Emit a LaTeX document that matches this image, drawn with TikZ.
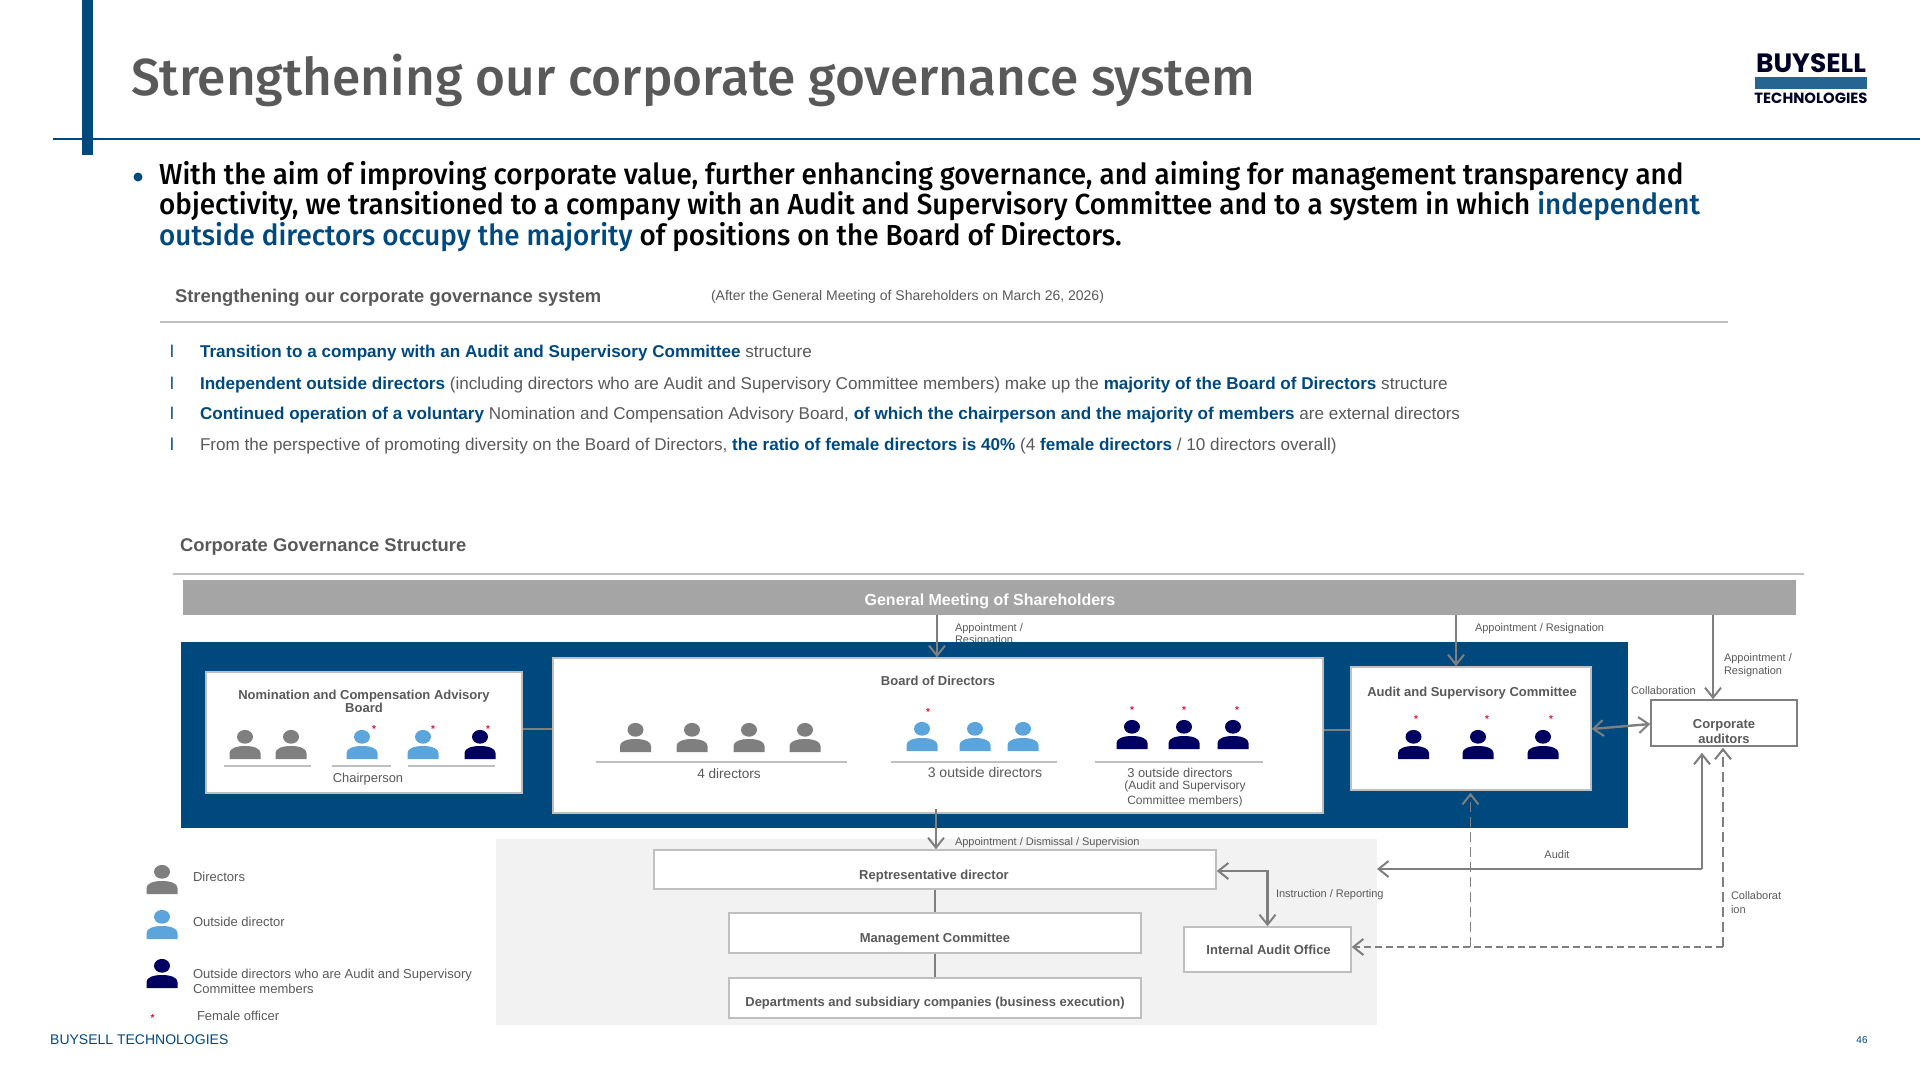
\documentclass[tikz,border=0pt]{standalone}
\usepackage{fontspec}
\usetikzlibrary{arrows.meta,calc}
\setmainfont{Liberation Sans}
\newfontfamily\titlefont[FakeStretch=0.988]{Fira Sans Medium}
\newfontfamily\headfont[FakeStretch=0.96]{Fira Sans Medium}
\newfontfamily\logofont{Poppins}
\definecolor{navyband}{HTML}{00497F}
\definecolor{txtgray}{HTML}{595959}
\definecolor{linegray}{HTML}{BFBFBF}
\definecolor{arrgray}{HTML}{7F7F7F}
\definecolor{persongray}{HTML}{7F7F7F}
\definecolor{personblue}{HTML}{5BA5DC}
\definecolor{personnavy}{HTML}{000060}
\definecolor{panelgray}{HTML}{F2F2F2}
\definecolor{barred}{HTML}{E0103A}
\newcommand{\fsz}[1]{\fontsize{#1}{#1}\selectfont}
\tikzset{
  x=1pt,y=-1pt,
  lbl/.style={inner sep=0pt,outer sep=0pt,text=txtgray,text height=0.72em,text depth=0.2em,align=left,yshift=-1.5pt},
  wlbl/.style={lbl,anchor=west},
  clbl/.style={lbl,anchor=center},
  small/.style={font=\fsz{11}},
  mid/.style={font=\fsz{13}},
  boldt/.style={font=\fsz{13}\bfseries},
  box/.style={draw=linegray,line width=1.5pt,fill=white,inner sep=0pt},
  barb/.tip={Straight Barb[length=10pt,width=16pt,line width=2pt]},
  arr/.style={draw=arrgray,line width=2.4pt,-barb},
  both arr/.style={draw=arrgray,line width=2.4pt,barb-barb},
  thinl/.style={draw=arrgray,line width=1.2pt},
  dash arr/.style={arr,dash pattern=on 7pt off 4pt},
  dash arr thin/.style={draw=arrgray,line width=1.4pt,dash pattern=on 10pt off 5pt,-barb},
  uline/.style={draw=linegray,line width=1.6pt},
  person/.pic={
    \path[pic actions] (-15.5,0) -- (-15.5,-6) .. controls (-15.5,-10.5) and (-9,-13) .. (0,-13)
       .. controls (9,-13) and (15.5,-10.5) .. (15.5,-6) -- (15.5,0) -- cycle;
    \path[pic actions] (0,-22.2) ellipse [x radius=8,y radius=6.9];
  },
  fem/.style={inner sep=0pt,text=barred,font=\fsz{10}\bfseries,anchor=base},
  sect/.style={lbl,anchor=west,font=\fsz{18.4}\bfseries,yshift=-3pt},
  item/.style={lbl,anchor=west,font=\fsz{17.1},yshift=-2pt},
  itemb/.style={lbl,anchor=west,text=navyband,font=\fsz{17.1},yshift=-2pt},
}
\newcommand{\hb}[1]{\textcolor{navyband}{\textbf{#1}}}
\begin{document}
\begin{tikzpicture}
\useasboundingbox (0,0) rectangle (1920,1080);
% header
\fill[navyband] (82,0) rectangle (92.5,155);
\draw[navyband,line width=2.4pt] (53,138.7) -- (1920,138.7);
\node (title) [anchor=base west,inner sep=0pt,text=txtgray,font=\titlefont\fsz{52}] at (131,95) {Strengthening our corporate governance system};
% logo
\node (logoA) [anchor=base,inner sep=0pt,text=black!85!blue,font=\logofont\bfseries\fsz{26.5}] at (1811,72.7) {BUYSELL};
\fill[navyband!85!white] (1755,77) rectangle (1867,89);
\node (logoB) [anchor=base,inner sep=0pt,text=black!85!blue,font=\logofont\bfseries\fsz{14.8}] at (1811,103) {TECHNOLOGIES};
% intro
\fill[navyband] (138,177) circle [radius=4.5];
\node (intro1) [anchor=base west,inner sep=0pt,font=\headfont\fsz{29}] at (159,184) {With the aim of improving corporate value, further enhancing governance, and aiming for management transparency and};
\node (intro2) [anchor=base west,inner sep=0pt,font=\headfont\fsz{29}] at (159,214) {objectivity, we transitioned to a company with an Audit and Supervisory Committee and to a system in which \textcolor{navyband}{independent}};
\node (intro3) [anchor=base west,inner sep=0pt,font=\headfont\fsz{29}] at (159,245) {\textcolor{navyband}{outside directors occupy the majority} of positions on the Board of Directors.};
% section 1
\node (sec1) [sect] at (175,295) {Strengthening our corporate governance system};
\node (sec1b) [lbl,anchor=west,font=\fsz{14}] at (711,296) {(After the General Meeting of Shareholders on March 26, 2026)};
\draw[uline] (160,322) -- (1728,322);
\foreach \n/\yy in {a/351,b/383,c/413,d/444}
  \node (bul\n) [itemb] at (170,\yy) {l};
\node (it1) [item] at (200,351) {\hb{Transition to a company with an Audit and Supervisory Committee} structure};
\node (it2) [item] at (200,383) {\hb{Independent outside directors} (including directors who are Audit and Supervisory Committee members) make up the \hb{majority of the Board of Directors} structure};
\node (it3) [item] at (200,413) {\hb{Continued operation of a voluntary} Nomination and Compensation Advisory Board, \hb{of which the chairperson and the majority of members} are external directors};
\node (it4) [item] at (200,444) {From the perspective of promoting diversity on the Board of Directors, \hb{the ratio of female directors is 40\%} (4 \hb{female directors} / 10 directors overall)};
% section 2
\node (sec2) [sect] at (180,544) {Corporate Governance Structure};
\draw[uline] (173,574) -- (1804,574);
\node (gm) [fill=arrgray!70,minimum width=1613,minimum height=35,inner sep=0pt] at (989.5,597.5) {};
\node (gmt) [inner sep=0pt,text=white,font=\fsz{16}\bfseries,text height=0.72em,text depth=0.2em,yshift=-2.5pt] at (990,600) {General Meeting of Shareholders};
% labels partly hidden by the band
\node (l1) [wlbl,small] at (955,627) {Appointment /};
\node (l1b) [wlbl,small] at (955,639) {Resignation};
% band and gray panel
\node (band) [fill=navyband,minimum width=1447,minimum height=186,inner sep=0pt] at (904.5,735) {};
\node (panel) [fill=panelgray,minimum width=881,minimum height=186,inner sep=0pt] at (936.5,932) {};
% boxes
\node (ncab) [box,minimum width=316,minimum height=121] at (364,732.5) {};
\node (board) [box,minimum width=770,minimum height=155] at (938,735.5) {};
\node (acom) [box,minimum width=240,minimum height=123] at (1471,728.5) {};
\node (corp) [box,draw=arrgray,minimum width=146,minimum height=46] at (1724,723) {};
\node (rep) [box,minimum width=562,minimum height=39] at (935,869.5) {};
\node (mgmt) [box,minimum width=412,minimum height=40] at (935,933) {};
\node (dept) [box,minimum width=412,minimum height=40] at (935,998) {};
\node (iao) [box,minimum width=167,minimum height=45] at (1267.5,949.5) {};
% box texts
\node (ncabt) [clbl,boldt,align=center] at (364,695) {Nomination and Compensation Advisory};
\node (ncabt2) [clbl,boldt] at (364,708) {Board};
\node (boardt) [clbl,boldt] at (938,681) {Board of Directors};
\node (acomt) [clbl,boldt] at (1472,692) {Audit and Supervisory Committee};
\node (corpt) [clbl,boldt] at (1724,724) {Corporate};
\node (corpt2) [clbl,boldt] at (1724,739) {auditors};
\node (rept) [clbl,boldt] at (934,875) {Reptresentative director};
\node (mgmtt) [clbl,boldt] at (935,938) {Management Committee};
\node (deptt) [clbl,boldt] at (935,1002) {Departments and subsidiary companies (business execution)};
\node (iaot) [clbl,boldt] at (1268.6,950) {Internal Audit Office};
% people
\foreach \x in {245,291} \pic[fill=persongray] at (\x,759) {person};
\foreach \x in {362,423} \pic[fill=personblue] at (\x,759) {person};
\pic[fill=personnavy] at (480,759) {person};
\foreach \x in {635.5,692,749,805} \pic[fill=persongray] at (\x,752) {person};
\foreach \x in {922,975,1023} \pic[fill=personblue] at (\x,751) {person};
\foreach \x in {1132,1184,1233} \pic[fill=personnavy] at (\x,749) {person};
\foreach \x in {1413.5,1478,1543} \pic[fill=personnavy] at (\x,759) {person};
% female marks
\foreach \n/\x/\y in {a/374/726,b/433/726,c/488/726,d/928/709,e/1132/707,f/1184/707,g/1237/707,h/1416/716,i/1487/716,j/1551/716,k/152.6/1015}
  \node (fm\n) [fem] at (\x,\y+6) {*};
% underlines
\draw[uline] (224,766) -- (310.5,766);
\draw[uline] (332,766) -- (391,766);
\draw[uline] (408,766) -- (495,766);
\draw[uline] (596,762) -- (847,762);
\draw[uline] (891,762) -- (1057,762);
\draw[uline] (1095,762) -- (1263,762);
\node (chair) [clbl,font=\fsz{12.9}] at (368,778) {Chairperson};
\node (d4) [clbl,font=\fsz{13.6}] at (729,774) {4 directors};
\node (d3) [clbl,font=\fsz{14}] at (985,773) {3 outside directors};
\node (d3b) [clbl,font=\fsz{12.9}] at (1180,773) {3 outside directors};
\node (d3c) [clbl,font=\fsz{12}] at (1185,785) {(Audit and Supervisory};
\node (d3d) [clbl,font=\fsz{12}] at (1185,800) {Committee members)};
% connector coordinates
\coordinate (xa) at (937,0);
\coordinate (xb) at (1456,0);
\coordinate (xc) at (1713,0);
\coordinate (xd) at (1702,0);
\coordinate (xe) at (1723,0);
\coordinate (xf) at (1470.5,0);
\coordinate (xg) at (935,0);
\coordinate (yh) at (0,871);
\coordinate (yi) at (0,947);
\coordinate (yj) at (0,869);
\coordinate (st) at (936,809);
\coordinate (aud) at (1377,869);
% connectors
\draw[thinl] (ncab.east |- 0,729) -- (board.west |- 0,729);
\draw[thinl] (board.east |- 0,730) -- (acom.west |- 0,730);
\draw[arr] (gm.south -| xa) -- (board.north -| xa);
\draw[arr] (gm.south -| xb) -- (acom.north -| xb);
\draw[arr] (gm.south -| xc) -- (corp.north -| xc);
\draw[both arr] (acom.east |- 0,729) -- (corp.west |- 0,724);
\draw[arr] (st) -- (rep.north -| st);
\draw[thinl] (rep.south -| xg) -- (mgmt.north -| xg);
\draw[thinl] (mgmt.south -| xg) -- (dept.north -| xg);
\draw[both arr] (rep.east |- yh) -| (iao.north);
\draw[arr] (xd |- yj) -- (aud);
\draw[arr] (xd |- yj) -- ($(xd |- corp.south)+(0,6)$);
\draw[dash arr thin] (xe |- yi) -- ($(xe |- corp.south)+(0,1)$);
\draw[dash arr] (xe |- yi) -- (iao.east |- yi);
\draw[dash arr thin] (xf |- yi) -- ($(xf |- acom.south)+(0,2)$);
% connector labels
\node (l2) [wlbl,small] at (1475,627) {Appointment / Resignation};
\node (l3) [wlbl,small] at (1724,657) {Appointment /};
\node (l3b) [wlbl,small] at (1724,670) {Resignation};
\node (l4) [wlbl,small] at (1631,690) {Collaboration};
\node (l5) [wlbl,small] at (955,841) {Appointment / Dismissal / Supervision};
\node (l6) [wlbl,small] at (1276,893) {Instruction / Reporting};
\node (l7) [clbl,small] at (1557,854) {Audit};
\node (l8) [wlbl,small] at (1731,895) {Collaborat};
\node (l8b) [wlbl,small] at (1731,909) {ion};
% legend
\pic[fill=persongray] at (162,894) {person};
\pic[fill=personblue] at (162,939) {person};
\pic[fill=personnavy] at (162,988) {person};
\node (ld) [wlbl,font=\fsz{13}] at (193,877) {Directors};
\node (lo) [wlbl,font=\fsz{13}] at (193,922) {Outside director};
\node (ln) [wlbl,font=\fsz{13}] at (193,974) {Outside directors who are Audit and Supervisory};
\node (ln2) [wlbl,font=\fsz{13}] at (193,989) {Committee members};
\node (lf) [wlbl,font=\fsz{13}] at (197,1016) {Female officer};
% footer
\node (foot) [anchor=west,inner sep=0pt,text=navyband,font=\fsz{14}] at (50,1040) {BUYSELL TECHNOLOGIES};
\node (pageno) [inner sep=0pt,text=navyband,font=\fsz{10}] at (1862,1040) {46};
\end{tikzpicture}
\end{document}
